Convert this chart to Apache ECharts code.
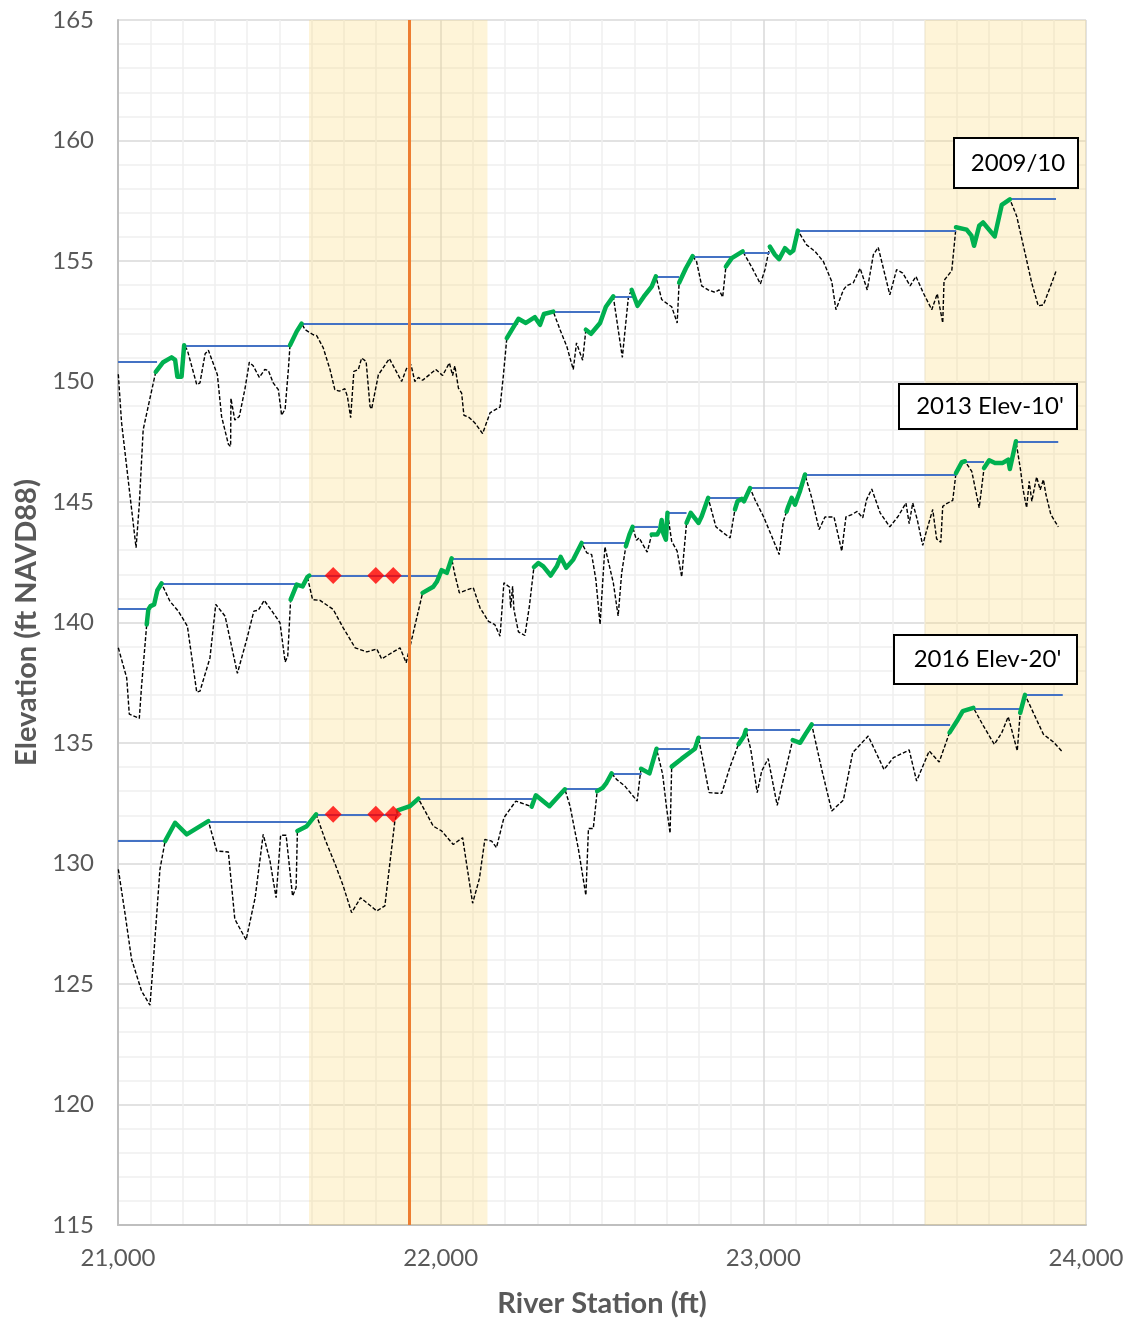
<!DOCTYPE html>
<html>
<head>
<meta charset="utf-8">
<script src="https://cdn.jsdelivr.net/npm/echarts@6/dist/echarts.min.js"></script>
<style>
  html, body { margin: 0; padding: 0; background: #fff; }
  #chart { width: 1128px; height: 1323px; }
</style>
</head>
<body>
<div id="chart"></div>
<script>
// ---- 2009/10 profile: thalweg stations / elevations ----
const st2009 = [21001, 21011, 21056, 21066, 21078, 21099, 21117, 21140, 21166, 21177, 21184, 21197, 21205,
  21215, 21244, 21254, 21270, 21280, 21308, 21321, 21342, 21349, 21350, 21362, 21376, 21394, 21407, 21419,
  21438, 21455, 21466, 21481, 21497, 21507, 21518, 21528, 21533, 21554, 21569,
  21580, 21605, 21616, 21636, 21657, 21672, 21686, 21703, 21711, 21721, 21731, 21745, 21755, 21769, 21781,
  21786, 21807, 21841, 21879, 21894, 21908, 21920, 21931, 21944, 21985, 22006, 22027, 22037, 22044, 22055,
  22065, 22072, 22089, 22106, 22130, 22153, 22184, 22194, 22205, 22241, 22264, 22292, 22308, 22320, 22349,
  22370, 22391, 22411, 22421, 22440, 22450, 22466, 22494, 22512, 22535,
  22563, 22582, 22592, 22610, 22630, 22654, 22667,
  22685, 22700, 22716, 22733, 22739, 22760, 22781,
  22793, 22809, 22829, 22850, 22863, 22874, 22884, 22902, 22936,
  22963, 22991, 23005, 23020, 23036, 23049, 23067, 23083, 23093, 23107,
  23134, 23160, 23186, 23212, 23225, 23248, 23258, 23279, 23300, 23322, 23341, 23356, 23392, 23413, 23432,
  23455, 23473, 23496, 23522, 23539, 23556, 23560, 23584, 23597, 23630, 23645, 23653, 23669, 23681, 23717,
  23739, 23764, 23785, 23811, 23832, 23852, 23868, 23888, 23907];
const el2009 = [150.3, 148.3, 143.1, 144.9, 148.0, 149.3, 150.4, 150.8, 151.0, 150.9, 150.2, 150.2, 151.5,
  151.3, 149.87, 149.94, 151.15, 151.3, 150.28, 148.55, 147.4, 147.3, 149.3, 148.4, 148.55, 149.73, 150.8, 150.65,
  150.17, 150.5, 150.46, 149.94, 149.66, 148.6, 148.86, 150.5, 151.5, 152.08, 152.4,
  152.15, 151.94, 151.9, 151.4, 150.5, 149.66, 149.6, 149.7, 149.38, 148.5, 150.42, 150.5, 150.97, 150.83, 148.97,
  148.86, 150.28, 150.95, 150.0, 150.53, 150.7, 150.0, 150.17, 150.05, 150.5, 150.25, 150.77, 150.25, 150.65, 149.73,
  149.52, 148.6, 148.5, 148.28, 147.84, 148.7, 148.94, 150.2, 151.8, 152.6, 152.43, 152.67, 152.35, 152.8, 152.9,
  152.15, 151.45, 150.5, 151.6, 150.88, 152.15, 151.98, 152.43, 153.1, 153.53,
  151.0, 153.53, 153.8, 153.14, 153.53, 153.94, 154.36,
  153.4, 153.25, 153.1, 152.43, 154.1, 154.7, 155.2,
  154.98, 153.97, 153.8, 153.7, 153.8, 153.5, 154.77, 155.12, 155.4,
  154.77, 154.05, 154.64, 155.6, 155.26, 155.08, 155.53, 155.33, 155.44, 156.26,
  155.67, 155.4, 154.98, 154.15, 152.98, 153.8, 153.97, 154.1, 154.7, 153.8, 155.26, 155.57, 153.6, 154.64, 154.5,
  153.97, 154.36, 153.67, 152.98, 153.64, 152.43, 154.19, 154.6, 156.4, 156.3, 156.05, 155.63, 156.46, 156.6, 156.02,
  157.33, 157.56, 156.87, 155.33, 154.08, 153.14, 153.18, 153.88, 154.57];
// riffle reaches (green), [from, to] station
const riffle2009 = [[21117, 21205], [21533, 21569], [22205, 22349], [22450, 22535], [22592, 22667],
  [22739, 22781], [22884, 22936], [23020, 23107], [23597, 23764]];
// pool water levels (blue), [from, to, elevation]
const pool2009 = [[21000, 21121, 150.82], [21205, 21533, 151.5], [21569, 22240, 152.4], [22349, 22494, 152.9],
  [22535, 22596, 153.53], [22667, 22739, 154.33], [22781, 22905, 155.19], [22936, 23020, 155.36],
  [23107, 23597, 156.27], [23764, 23907, 157.57]];

// ---- 2013 profile (Elev - 10') ----
const st2013 = [21001, 21027, 21035, 21066, 21073, 21089, 21094, 21101, 21112, 21122, 21135,
  21161, 21187, 21215, 21244, 21254, 21285, 21303, 21332, 21370, 21399, 21421, 21435, 21453, 21481, 21502,
  21518, 21526, 21535, 21554, 21564, 21572, 21587, 21593,
  21603, 21626, 21667, 21698, 21735, 21771, 21802, 21817, 21874, 21893, 21915, 21944, 21977, 21988, 22003,
  22019, 22034, 22044, 22058, 22079, 22101, 22122, 22148, 22168, 22184, 22196, 22213, 22217, 22223, 22227,
  22241, 22261, 22275, 22289, 22303, 22318, 22341, 22360, 22372, 22389, 22411, 22437,
  22453, 22468, 22481, 22494, 22509, 22535, 22550, 22561, 22574, 22585, 22595,
  22607, 22615, 22640, 22654, 22671, 22680, 22685, 22690, 22698, 22703,
  22716, 22733, 22747, 22762, 22775, 22799, 22809, 22829,
  22853, 22876, 22897, 22912, 22920, 22933, 22940, 22959,
  22974, 23000, 23026, 23049, 23062, 23072, 23077, 23088, 23098, 23114, 23129,
  23150, 23173, 23191, 23219, 23243, 23256, 23274, 23291, 23308, 23320, 23336, 23362, 23392, 23418, 23442,
  23452, 23463, 23477, 23494, 23504, 23525, 23537, 23550, 23556, 23568, 23587, 23597, 23615, 23625,
  23646, 23669, 23684, 23700, 23718, 23742, 23759, 23764, 23783,
  23797, 23805, 23816, 23824, 23832, 23847, 23858, 23868, 23876, 23891, 23914];
const el2013 = [138.95, 137.7, 136.2, 136.02, 137.36, 139.92, 140.54, 140.68, 140.75, 141.34, 141.62,
  140.88, 140.47, 139.85, 137.11, 137.15, 138.53, 140.75, 140.26, 137.89, 139.3, 140.47, 140.51, 140.92, 140.4, 139.99,
  138.36, 138.6, 140.95, 141.57, 141.53, 141.5, 141.89, 141.95,
  140.95, 140.92, 140.54, 139.78, 138.95, 138.78, 138.9, 138.49, 138.95, 138.33, 139.57, 141.23, 141.48, 141.69, 142.17,
  142.06, 142.66, 141.99, 141.23, 141.34, 141.44, 140.61, 140.05, 139.91, 139.43, 141.65, 141.47, 140.61, 141.5, 140.54,
  139.61, 139.46, 140.68, 142.3, 142.47, 142.33, 141.95, 142.33, 142.72, 142.27, 142.61, 143.3,
  142.89, 142.82, 141.78, 139.92, 143.14, 141.65, 140.27, 142.06, 143.17, 143.65, 143.97,
  143.41, 143.51, 142.92, 143.65, 143.65, 143.86, 144.25, 143.7, 143.44, 144.55,
  143.37, 142.96, 141.89, 144.13, 144.55, 144.13, 144.41, 145.17,
  143.97, 143.72, 143.51, 144.69, 145.03, 145.13, 145.03, 145.58,
  145.1, 144.41, 143.58, 142.82, 144.2, 144.6, 144.8, 145.17, 144.89, 145.47, 146.14,
  145.17, 143.86, 144.38, 144.38, 142.96, 144.38, 144.48, 144.61, 144.34, 145.1, 145.54, 144.55, 143.97, 144.41, 144.96,
  144.1, 144.96, 144.27, 143.2, 143.72, 144.69, 143.47, 143.33, 144.82, 144.93, 145.07, 146.2, 146.65, 146.69,
  146.27, 144.76, 146.41, 146.73, 146.62, 146.62, 146.76, 146.37, 147.52,
  146.34, 145.51, 144.76, 145.86, 145.03, 146.04, 145.51, 145.93, 145.3, 144.48, 143.97];
const riffle2013 = [[21089, 21135], [21535, 21593], [21944, 22034], [22289, 22437], [22574, 22595],
  [22654, 22703], [22762, 22829], [22912, 22959], [23072, 23129], [23597, 23625], [23684, 23783]];
const pool2013 = [[21000, 21089, 140.58], [21135, 21553, 141.62], [21593, 21998, 141.95], [22034, 22368, 142.64],
  [22437, 22574, 143.3], [22595, 22674, 143.97], [22703, 22762, 144.55], [22829, 22940, 145.17],
  [22959, 23114, 145.58], [23129, 23597, 146.11], [23625, 23684, 146.69], [23783, 23914, 147.52]];
const marks2013 = [[21667, 141.95], [21799, 141.95], [21853, 141.95]];

// ---- 2016 profile (Elev - 20') ----
const st2016 = [21001, 21022, 21042, 21073, 21099, 21107, 21130, 21146, 21177, 21213, 21280,
  21306, 21342, 21362, 21397, 21425, 21450, 21471, 21490, 21504, 21521, 21541, 21552, 21556, 21585, 21614,
  21642, 21673, 21698, 21724, 21752, 21802, 21827, 21858, 21867, 21905, 21931,
  21977, 22003, 22039, 22068, 22099, 22120, 22137, 22158, 22173, 22196, 22233, 22282, 22295, 22337, 22385,
  22401, 22427, 22450, 22458, 22473, 22485, 22502, 22514, 22530,
  22545, 22571, 22592, 22609, 22618, 22621, 22647, 22669,
  22688, 22700, 22711, 22716, 22747, 22788, 22799,
  22814, 22832, 22871, 22897, 22923, 22940, 22946,
  22961, 22981, 22995, 23015, 23043, 23091, 23114, 23132, 23150,
  23181, 23212, 23248, 23277, 23325, 23374, 23403, 23452, 23475, 23514, 23545, 23577, 23600, 23618, 23651,
  23682, 23716, 23739, 23759, 23787, 23796, 23811,
  23837, 23868, 23899, 23928];
const el2016 = [129.76, 127.9, 126.03, 124.71, 124.12, 125.48, 129.76, 130.93, 131.69, 131.21, 131.76,
  130.52, 130.48, 127.69, 126.83, 128.58, 131.21, 130.11, 128.58, 131.17, 131.17, 128.65, 129.0, 131.35, 131.55, 132.04,
  130.99, 129.97, 129.07, 127.96, 128.58, 128.03, 128.24, 131.76, 132.2, 132.38, 132.69,
  131.55, 131.35, 130.79, 131.07, 128.35, 129.37, 131.0, 130.93, 130.66, 131.9, 132.59, 132.36, 132.83, 132.38, 133.08,
  132.38, 130.59, 128.68, 131.45, 131.45, 133.0, 133.14, 133.35, 133.74,
  133.49, 133.21, 132.87, 132.59, 133.63, 133.93, 133.74, 134.76,
  133.7, 132.32, 131.25, 134.02, 134.35, 134.76, 135.22,
  134.19, 132.94, 132.91, 134.02, 134.95, 135.29, 135.54,
  134.74, 132.94, 133.84, 134.35, 132.41, 135.12, 135.01, 135.4, 135.77,
  133.9, 132.18, 132.63, 134.6, 135.29, 133.9, 134.39, 134.71, 133.42, 134.67, 134.21, 135.43, 135.91, 136.32, 136.46,
  135.71, 134.94, 135.43, 136.09, 134.67, 136.25, 137.0,
  136.25, 135.36, 135.04, 134.62];
const riffle2016 = [[21146, 21280], [21556, 21614], [21867, 21931], [22282, 22385], [22485, 22530],
  [22621, 22669], [22716, 22799], [22923, 22946], [23091, 23150], [23577, 23651], [23796, 23811]];
const pool2016 = [[21000, 21146, 130.93], [21280, 21585, 131.74], [21614, 21869, 132.04], [21931, 22285, 132.69],
  [22380, 22504, 133.1], [22530, 22623, 133.74], [22669, 22772, 134.76], [22799, 22926, 135.22],
  [22946, 23114, 135.54], [23150, 23579, 135.74], [23651, 23798, 136.43], [23811, 23928, 136.99]];
const marks2016 = [[21667, 132.04], [21799, 132.04], [21853, 132.04]];

// shaded reaches and the marked station
const shadedReaches = [[21592, 22145], [23500, 24000]];
const markedStation = 21902;

const profileLabels = ["2009/10", "2013 Elev-10'", "2016 Elev-20'"];

const FONT = "Lato, 'Open Sans', sans-serif";
const chart = echarts.init(document.getElementById("chart"));

function thalweg(st, el) {
  return st.map((s, i) => [s, el[i]]);
}

function poolLines(pools) {
  return pools.map((p) => [{ coord: [p[0], p[2]] }, { coord: [p[1], p[2]] }]);
}

const profiles = [
  { st: st2009, el: el2009, riffle: riffle2009, pool: pool2009, marks: [] },
  { st: st2013, el: el2013, riffle: riffle2013, pool: pool2013, marks: marks2013 },
  { st: st2016, el: el2016, riffle: riffle2016, pool: pool2016, marks: marks2016 },
];

const series = [];

// shading (behind everything)
series.push({
  type: "line",
  data: [],
  silent: true,
  z: 1,
  markArea: {
    silent: true,
    itemStyle: { color: "rgba(252, 218, 125, 0.3)" },
    data: shadedReaches.map((r) => [{ xAxis: r[0] }, { xAxis: r[1] }]),
  },
});

profiles.forEach((p) => {
  // pool water surface
  series.push({
    type: "line",
    data: [],
    silent: true,
    z: 3,
    markLine: {
      silent: true,
      symbol: ["none", "none"],
      label: { show: false },
      lineStyle: { color: "#4472c4", width: 2, type: "solid" },
      emphasis: { disabled: true },
      animation: false,
      data: poolLines(p.pool),
    },
  });
  // thalweg
  series.push({
    type: "line",
    data: thalweg(p.st, p.el),
    symbol: "none",
    silent: true,
    z: 4,
    lineStyle: { color: "#000", width: 1.4, type: [4, 2] },
  });
  // riffles
  p.riffle.forEach((r) => {
    const pts = thalweg(p.st, p.el).filter((d) => d[0] >= r[0] && d[0] <= r[1]);
    series.push({
      type: "line",
      data: pts,
      symbol: "none",
      silent: true,
      z: 5,
      lineStyle: { color: "#00b050", width: 4.5, cap: "round", join: "round" },
    });
  });
  if (p.marks.length) {
    series.push({
      type: "scatter",
      data: p.marks,
      symbol: "diamond",
      symbolSize: 17,
      silent: true,
      z: 6,
      itemStyle: { color: "#ff0000" },
    });
  }
});

// marked station
series.push({
  type: "line",
  data: [],
  silent: true,
  z: 7,
  markLine: {
    silent: true,
    symbol: ["none", "none"],
    label: { show: false },
    lineStyle: { color: "#ed7d31", width: 3, type: "solid" },
    emphasis: { disabled: true },
    animation: false,
    data: [{ xAxis: markedStation }],
  },
});

// annotation box: white rect with a black border and a centred caption
function labelBox(x, y, w, h, text) {
  return [
    {
      type: "rect",
      left: x,
      top: y,
      z: 100,
      silent: true,
      shape: { width: w, height: h },
      style: { fill: "#ffffff", stroke: "#000000", lineWidth: 2 },
    },
    {
      type: "text",
      x: x + w / 2 + 3,
      y: y + h / 2 + 1,
      z: 101,
      silent: true,
      style: {
        text: text,
        fill: "#000000",
        fontSize: 24,
        fontFamily: FONT,
        align: "center",
        verticalAlign: "middle",
      },
    },
  ];
}

const option = {
  animation: false,
  backgroundColor: "#fff",
  grid: { left: 118, right: 42, top: 20, bottom: 97 },
  xAxis: {
    type: "value",
    min: 21000,
    max: 24000,
    interval: 1000,
    name: "River Station (ft)",
    nameLocation: "middle",
    nameGap: 64,
    nameTextStyle: { color: "#595959", fontSize: 29, fontWeight: "bold", fontFamily: FONT },
    axisLine: { show: true, lineStyle: { color: "#bfbfbf", width: 2 } },
    axisTick: { show: false },
    axisLabel: {
      color: "#595959",
      fontSize: 24,
      fontFamily: FONT,
      margin: 21,
      formatter: (v) => v.toLocaleString("en-US"),
    },
    splitLine: { show: true, lineStyle: { color: "#d9d9d9", width: 1.5 } },
    minorTick: { show: false, splitNumber: 10 },
    minorSplitLine: { show: true, lineStyle: { color: "#f0f0f0", width: 1.5 } },
  },
  yAxis: {
    type: "value",
    min: 115,
    max: 165,
    interval: 5,
    name: "Elevation (ft NAVD88)",
    nameLocation: "middle",
    nameGap: 74,
    nameTextStyle: { color: "#595959", fontSize: 29, fontWeight: "bold", fontFamily: FONT },
    axisLine: { show: true, lineStyle: { color: "#bfbfbf", width: 2 } },
    axisTick: { show: false },
    axisLabel: { color: "#595959", fontSize: 24, fontFamily: FONT, margin: 24 },
    splitLine: { show: true, lineStyle: { color: "#d9d9d9", width: 1.5 } },
    minorTick: { show: false, splitNumber: 5 },
    minorSplitLine: { show: true, lineStyle: { color: "#f0f0f0", width: 1.5 } },
  },
  graphic: [].concat(
    labelBox(953, 137, 124, 50, profileLabels[0]),
    labelBox(898, 383, 178, 45, profileLabels[1]),
    labelBox(893, 634, 183, 49, profileLabels[2])
  ),
  series: series,
};

chart.setOption(option);
window.addEventListener("resize", () => chart.resize());
</script>
</body>
</html>
